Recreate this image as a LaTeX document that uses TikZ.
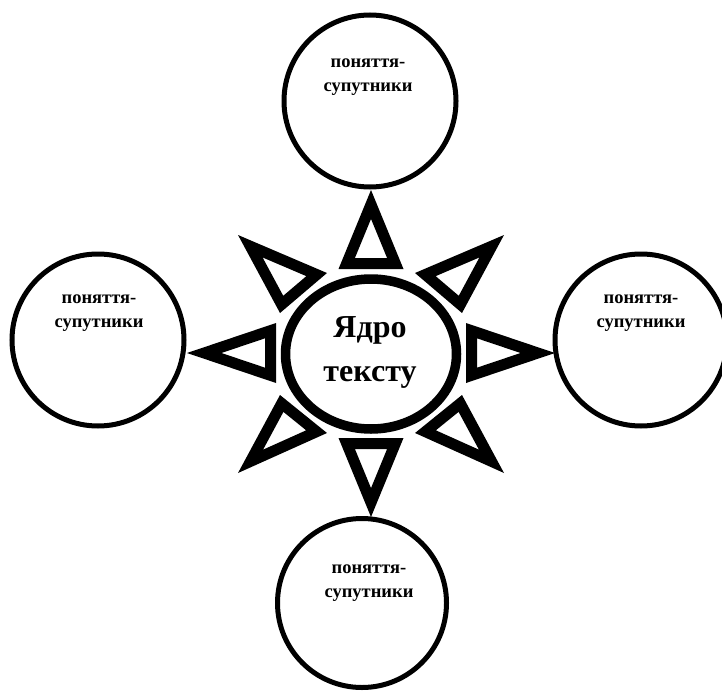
\documentclass[tikz,border=0pt]{standalone}
\usepackage{fontspec}
\setmainfont{Liberation Serif}
\usetikzlibrary{shapes.geometric}

\tikzset{
  satellite/.style={circle, draw, line width=5pt, minimum size=172pt, inner sep=0pt},
  satlabel/.style={align=center, inner sep=0pt, anchor=base,
    font=\bfseries\fontsize{18.5}{24}\selectfont},
  corering/.style={ellipse, draw, line width=9.5pt, minimum width=171pt,
    minimum height=150pt, inner sep=0pt},
  corelabel/.style={align=center, inner sep=0pt, anchor=base,
    font=\bfseries\fontsize{32}{44}\selectfont},
  raystroke/.style={line width=22pt, line join=miter},
}

% hollow triangle: the outline is a band inside the three given vertices
\newcommand\sunray[3]{%
  \begin{scope}
    \clip #1 -- #2 -- #3 -- cycle;
    \draw[raystroke] #1 -- #2 -- #3 -- cycle;
  \end{scope}}

\begin{document}
\begin{tikzpicture}[x=1pt, y=-1pt]
  \useasboundingbox[fill=white] (0,0) rectangle (722,690);

  % core of the text (anchor = baseline of the last line)
  \node[corering] (core) at (371,354) {};
  \node[corelabel] (corename) at (370,381) {Ядро\\тексту};

  % rays of the sun around the core
  \begin{scope}[shift={(371,354)}]
    \sunray{(0,-164)}{(-32.5,-85)}{(32.5,-85)}
    \sunray{(0,163)}{(-32.5,84)}{(32.5,84)}
    \sunray{(-184,-1)}{(-95,-31)}{(-95,29)}
    \sunray{(184,-1)}{(95,-31)}{(95,29)}
    \sunray{(-133,-119)}{(-44,-81)}{(-91,-41)}
    \sunray{(133,-119)}{(44,-81)}{(91,-41)}
    \sunray{(-133,119)}{(-44,79)}{(-91,41)}
    \sunray{(133,119)}{(44,79)}{(91,41)}
  \end{scope}

  % satellite concepts
  \node[satellite] (sattop) at (370,101) {};
  \node[satellite] (satleft) at (98,340) {};
  \node[satellite] (satright) at (641,340) {};
  \node[satellite, minimum size=169pt] (satbottom) at (362,603) {};

  \node[satlabel] (labtop) at (368,92) {поняття-\\супутники};
  \node[satlabel] (lableft) at (99,327) {поняття-\\супутники};
  \node[satlabel] (labright) at (641,327) {поняття-\\супутники};
  \node[satlabel] (labbottom) at (369,597) {поняття-\\супутники};
\end{tikzpicture}
\end{document}
